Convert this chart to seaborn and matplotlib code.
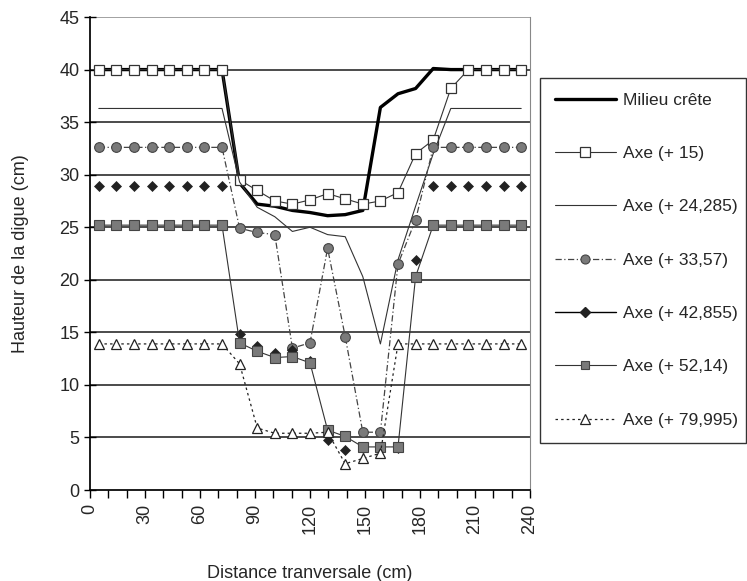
import pandas as pd
import seaborn as sns
import matplotlib.pyplot as plt
from matplotlib.lines import Line2D

# distance across the dike (cm) - 25 measurement points
distance = [4.8, 14.4, 24.0, 33.6, 43.2, 52.8, 62.4, 72.0, 81.6, 91.2,
            100.8, 110.4, 120.0, 129.6, 139.2, 148.8, 158.4, 168.0, 177.6,
            187.2, 196.8, 206.4, 216.0, 225.6, 235.2]

milieu_crete = [40, 40, 40, 40, 40, 40, 40, 40, 29.2, 27.2, 27.0, 26.6, 26.4,
                26.1, 26.2, 26.6, 36.4, 37.7, 38.2, 40.1, 40, 40, 40, 40, 40]
axe_15 = [40, 40, 40, 40, 40, 40, 40, 40, 29.5, 28.5, 27.5, 27.2, 27.6,
          28.2, 27.7, 27.2, 27.5, 28.3, 32.0, 33.3, 38.2, 40, 40, 40, 40]
axe_24 = [36.3, 36.3, 36.3, 36.3, 36.3, 36.3, 36.3, 36.3, 29.3, 26.9, 26.0,
          24.6, 25.0, 24.3, 24.1, 20.3, 13.9, 21.9, 27.0, 32.0, 36.3, 36.3,
          36.3, 36.3, 36.3]
axe_33 = [32.6, 32.6, 32.6, 32.6, 32.6, 32.6, 32.6, 32.6, 24.9, 24.5, 24.3,
          13.5, 14.0, 23.0, 14.6, 5.5, 5.5, 21.5, 25.7, 32.6, 32.6, 32.6,
          32.6, 32.6, 32.6]
axe_42 = [28.9, 28.9, 28.9, 28.9, 28.9, 28.9, 28.9, 28.9, 14.8, 13.7, 13.0,
          13.3, 12.3, 4.8, 3.8, 4.0, 4.0, 4.0, 21.9, 28.9, 28.9, 28.9, 28.9,
          28.9, 28.9]
axe_52 = [25.2, 25.2, 25.2, 25.2, 25.2, 25.2, 25.2, 25.2, 14.0, 13.2, 12.6,
          12.7, 12.1, 5.7, 5.1, 4.1, 4.1, 4.1, 20.3, 25.2, 25.2, 25.2, 25.2,
          25.2, 25.2]
axe_79 = [13.9, 13.9, 13.9, 13.9, 13.9, 13.9, 13.9, 13.9, 12.0, 5.9, 5.4,
          5.4, 5.4, 5.5, 2.5, 3.0, 3.5, 13.9, 13.9, 13.9, 13.9, 13.9, 13.9,
          13.9, 13.9]

labels = ["Milieu crête", "Axe (+ 15)", "Axe (+ 24,285)", "Axe (+ 33,57)",
          "Axe (+ 42,855)", "Axe (+ 52,14)", "Axe (+ 79,995)"]
series = [milieu_crete, axe_15, axe_24, axe_33, axe_42, axe_52, axe_79]

sns.set_theme(style="white")
plt.rcParams["font.family"] = ["Liberation Sans Narrow", "Liberation Sans", "DejaVu Sans"]

# line / marker look for each series
styles = {
    "Milieu crête": dict(color="black", lw=2.4, ls="-", marker=None),
    "Axe (+ 15)": dict(color="#333333", lw=0.8, ls="-", marker="s", ms=7,
                       mfc="white", mec="#333333", mew=0.9),
    "Axe (+ 24,285)": dict(color="#333333", lw=0.8, ls="-", marker=None),
    "Axe (+ 33,57)": dict(color="#444444", lw=0.9, ls=(0, (5, 2, 1, 2)), marker="o",
                          ms=7, mfc="#7a7a7a", mec="#444444", mew=0.8),
    "Axe (+ 42,855)": dict(color="black", lw=0, ls="", marker="D", ms=5.5,
                           mfc="#222222", mec="#222222", mew=0.5),
    "Axe (+ 52,14)": dict(color="#333333", lw=0.8, ls="-", marker="s", ms=6.5,
                          mfc="#7a7a7a", mec="#444444", mew=0.8),
    "Axe (+ 79,995)": dict(color="#222222", lw=0.9, ls=(0, (2, 2.5)), marker="^",
                           ms=7, mfc="white", mec="#222222", mew=0.9),
}


def main():
    rows = []
    for name, vals in zip(labels, series):
        for d, h in zip(distance, vals):
            rows.append({"distance": d, "hauteur": h, "serie": name})
    df = pd.DataFrame(rows)

    fig = plt.figure(figsize=(7.47, 5.81), dpi=100)
    ax = fig.add_axes([0.1205, 0.1566, 0.589, 0.8141])

    for y in range(5, 46, 5):
        ax.axhline(y, color="#1a1a1a" if y < 45 else "#888888", lw=1.1, zorder=0)

    for name in labels:
        st = styles[name]
        sub = df[df["serie"] == name]
        kw = dict(color=st["color"], linewidth=st["lw"], linestyle=st["ls"])
        if st["marker"]:
            kw.update(marker=st["marker"], markersize=st["ms"], markerfacecolor=st["mfc"],
                      markeredgecolor=st["mec"], markeredgewidth=st["mew"])
        sns.lineplot(data=sub, x="distance", y="hauteur", ax=ax, estimator=None,
                     sort=False, legend=False, **kw)

    ax.set_xlim(0, 240)
    ax.set_ylim(0, 45)
    ax.set_xticks(range(0, 241, 10), minor=True)
    ax.set_xticks(range(0, 241, 30))
    ax.set_yticks(range(0, 46, 5))
    ax.tick_params(axis="x", which="both", direction="out", length=6, width=1,
                   color="black", bottom=True, labelsize=13, labelrotation=90, pad=4)
    ax.tick_params(axis="y", direction="inout", length=9, width=1, color="black",
                   left=True, labelsize=13, pad=3)
    ax.spines["top"].set_visible(False)
    ax.spines["left"].set_color("black")
    ax.spines["bottom"].set_color("black")
    ax.spines["right"].set_color("#888888")
    ax.spines["right"].set_linewidth(0.8)

    ax.set_xlabel("Distance tranversale (cm)", fontsize=13, labelpad=22)
    ax.set_ylabel("Hauteur de la digue (cm)", fontsize=13, labelpad=22)

    handles = []
    for name in labels:
        st = styles[name]
        if name == "Axe (+ 42,855)":
            h = Line2D([], [], color="black", lw=1.0, ls="-", marker="D", ms=5,
                       mfc="#222222", mec="#222222")
        elif st["marker"]:
            h = Line2D([], [], color=st["color"], lw=st["lw"], ls=st["ls"], marker=st["marker"],
                       ms=st["ms"] - 0.5, mfc=st["mfc"], mec=st["mec"], mew=st["mew"])
        else:
            h = Line2D([], [], color=st["color"], lw=st["lw"], ls=st["ls"])
        handles.append(h)

    leg = fig.legend(handles, labels, loc="upper left",
                     bbox_to_anchor=(0.723, 0.866, 0.276, 0.0), mode="expand",
                     frameon=True, fancybox=False, fontsize=12.5, labelspacing=2.2,
                     handlelength=3.5, handletextpad=0.45, borderpad=0.85,
                     borderaxespad=0.0)
    leg.get_frame().set_edgecolor("black")
    leg.get_frame().set_linewidth(1.0)

    fig.savefig("out.png", dpi=100)
    plt.close(fig)


if __name__ == "__main__":
    main()
